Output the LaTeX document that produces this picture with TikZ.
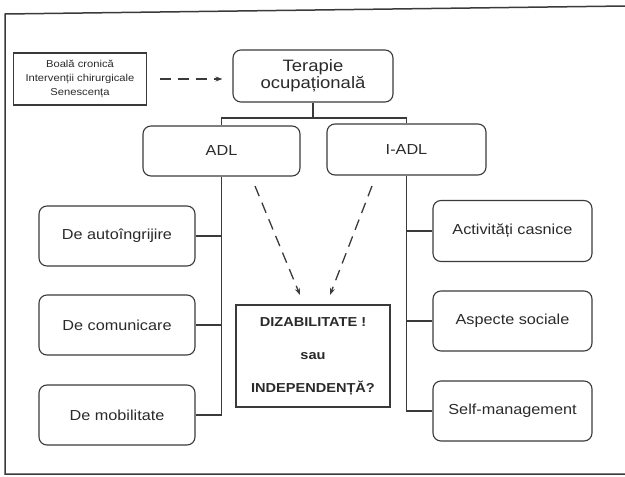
\documentclass[tikz,border=0pt]{standalone}
\usepackage{fontspec}
\setmainfont{Liberation Sans}[FakeStretch=1.12]
\usetikzlibrary{arrows.meta}
\definecolor{ink}{HTML}{3A3A3A}
\definecolor{txt}{HTML}{2A2A2A}
\begin{document}
\begin{tikzpicture}[x=1pt,y=-1pt,
  every node/.style={text=txt,align=center,inner sep=0pt},
  rbox/.style={draw=ink,line width=1.1pt,rounded corners=8pt},
  sbox/.style={draw=ink,line width=1.3pt},
  conn/.style={draw=ink,line width=1.6pt},
  darrow/.style={draw=ink,line width=1.3pt,dash pattern=on 11pt off 7pt,-{Stealth[length=7pt,width=5pt]}},
  lbl/.style={font=\fontsize{14.5}{17}\selectfont}]
\useasboundingbox (0,0) rectangle (625,477);
% outer frame
\draw[ink,line width=1.5pt] (625,6) -- (5,14) -- (5,474) -- (625,474);
% nodes
\node[sbox,minimum width=133pt,minimum height=52pt,font=\fontsize{10}{14}\selectfont] (boala) at (80,79)
  {Boală cronică\\Intervenții chirurgicale\\Senescența};
\node[rbox,minimum width=160pt,minimum height=52pt,font=\fontsize{16.5}{17.5}\selectfont] (ter) at (313,76)
  {Terapie\\ocupațională};
\node[rbox,minimum width=157pt,minimum height=50pt,lbl] (adl) at (221.5,151) {ADL};
\node[rbox,minimum width=159pt,minimum height=51pt,lbl] (iadl) at (406.5,149.5) {I-ADL};
\node[rbox,minimum width=156pt,minimum height=60pt,lbl] (l1) at (117,236) {De autoîngrijire};
\node[rbox,minimum width=156pt,minimum height=60pt,lbl] (l2) at (117,325) {De comunicare};
\node[rbox,minimum width=156pt,minimum height=60pt,lbl] (l3) at (117,415) {De mobilitate};
\node[rbox,minimum width=159pt,minimum height=61pt,lbl] (r1) at (512.5,231) {Activități casnice};
\node[rbox,minimum width=159pt,minimum height=60pt,lbl] (r2) at (512.5,321) {Aspecte sociale};
\node[rbox,minimum width=159pt,minimum height=60pt,lbl] (r3) at (512.5,411) {Self-management};
\node[draw=ink,line width=1.9pt,minimum width=154pt,minimum height=102pt,
  font=\bfseries\fontsize{13}{33}\selectfont] (dis) at (313,356)
  {DIZABILITATE !\\sau\\INDEPENDENȚĂ?};
% coordinates
\coordinate (jun) at (313,118);
\coordinate (a1) at (255,186);
\coordinate (a2) at (300,295);
\coordinate (b1) at (372,186);
\coordinate (b2) at (330,295);
% connectors
\draw[conn] (ter) -- (jun);
\draw[conn] (adl.north) |- (jun) -| (iadl.north);
\draw[conn] (adl.south) |- (l3.east);
\draw[conn] (l1.east) -- (l1.east -| adl.south);
\draw[conn] (l2.east) -- (l2.east -| adl.south);
\draw[conn] (iadl.south) |- (r3.west);
\draw[conn] (r1.west) -- (r1.west -| iadl.south);
\draw[conn] (r2.west) -- (r2.west -| iadl.south);
\draw[darrow,shorten <=13pt,shorten >=10pt] (boala.east) -- (boala.east -| ter.west);
\draw[darrow] (a1) -- (a2);
\draw[darrow] (b1) -- (b2);
\end{tikzpicture}
\end{document}
